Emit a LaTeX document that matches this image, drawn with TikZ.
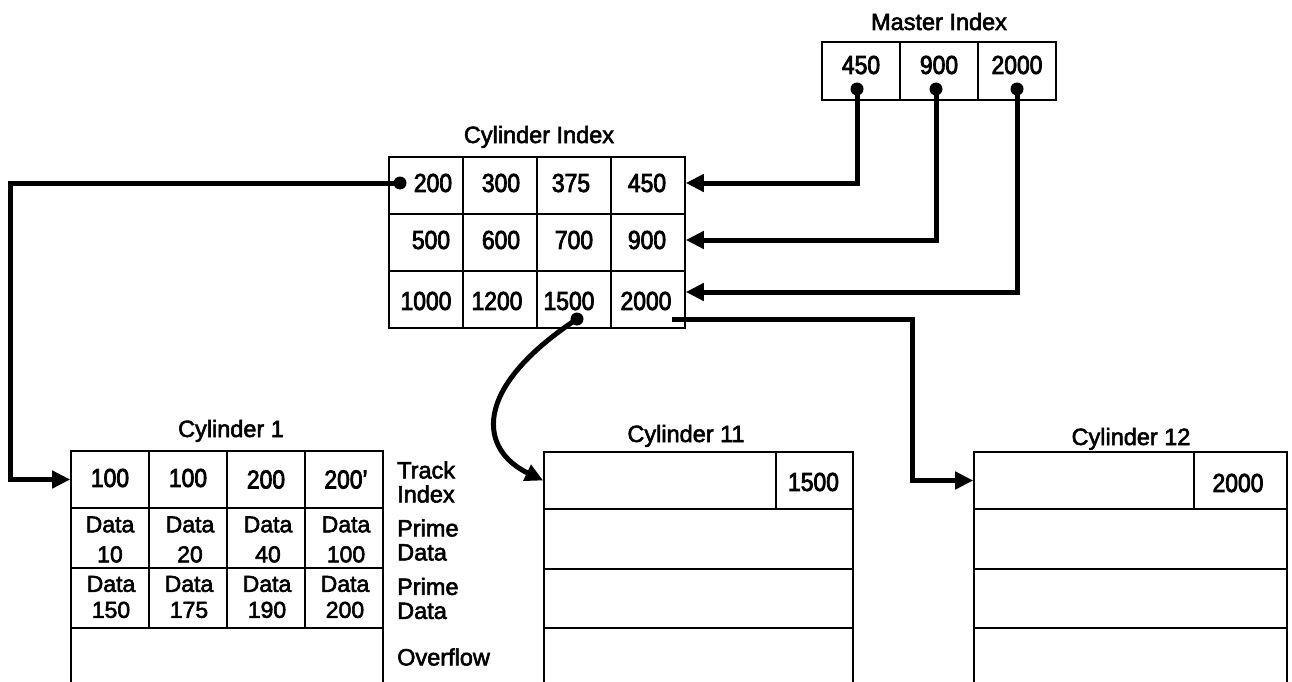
\documentclass[tikz,border=0pt]{standalone}
\usepackage{fontspec}
\setmainfont[FakeBold=2.4]{Liberation Sans}
\newfontfamily\numfont[FakeStretch=0.88,FakeBold=3]{Liberation Sans}
\usetikzlibrary{arrows.meta}
\begin{document}
\begin{tikzpicture}[x=1pt,y=-1pt,
  box/.style={draw, line width=1.6pt, inner sep=0pt},
  num/.style={font=\numfont\fontsize{26}{28}\selectfont, inner sep=0pt},
  lab/.style={font=\fontsize{23.5}{24}\selectfont, inner sep=0pt},
  dat/.style={font=\fontsize{23}{30}\selectfont, inner sep=0pt, align=center},
  side/.style={font=\fontsize{23.5}{24}\selectfont, inner sep=0pt, align=left, anchor=west},
  conn/.style={line width=5pt, -{Triangle[length=18pt,width=17pt]}},
  dotf/.style={fill=black}]
\fill[white] (0,0) rectangle (1292,682);
\clip (0,0) rectangle (1292,682);

% ---------------- Master Index
\node[lab, anchor=base] (mtitle) at (939,30) {Master Index};
\node[box, minimum width=78pt, minimum height=58pt] (m1) at (861,71) {};
\node[box, minimum width=78pt, minimum height=58pt] (m2) at (939,71) {};
\node[box, minimum width=78pt, minimum height=58pt] (m3) at (1017,71) {};
\node[num] (m1t) at (861,65) {450};
\node[num] (m2t) at (939,65) {900};
\node[num] (m3t) at (1017,65) {2000};
\coordinate (dm1) at (857,89);
\coordinate (dm2) at (936,89);
\coordinate (dm3) at (1017,89);

% ---------------- Cylinder Index
\node[lab, anchor=base] (cititle) at (539,143) {Cylinder Index};
\foreach \r/\y in {1/185.5,2/242.5,3/299.5}
  \foreach \c/\x in {1/426,2/500,3/574,4/648}
    \node[box, minimum width=74pt, minimum height=57pt] (ci\r\c) at (\x,\y) {};
\node[num] (ci11t) at (433,183) {200};
\node[num] (ci12t) at (501,183) {300};
\node[num] (ci13t) at (571,183) {375};
\node[num] (ci14t) at (647,183) {450};
\node[num] (ci21t) at (431,240) {500};
\node[num] (ci22t) at (501,240) {600};
\node[num] (ci23t) at (574,240) {700};
\node[num] (ci24t) at (647,240) {900};
\node[num] (ci31t) at (426,301) {1000};
\node[num] (ci32t) at (497,301) {1200};
\node[num] (ci33t) at (569,301) {1500};
\node[num] (ci34t) at (646,301) {2000};
\coordinate (d200) at (400,183);
\coordinate (d1500) at (577,319);
\coordinate (s2000) at (672,319);

% ---------------- Cylinder 1
\node[lab, anchor=base] (c1title) at (231,437) {Cylinder 1};
\foreach \c/\x in {1/110,2/188,3/266,4/344}{
  \node[box, minimum width=78pt, minimum height=57pt] (c1a\c) at (\x,479.5) {};
  \node[box, minimum width=78pt, minimum height=60pt] (c1b\c) at (\x,538) {};
  \node[box, minimum width=78pt, minimum height=60pt] (c1c\c) at (\x,598) {};
}
\node[box, minimum width=312pt, minimum height=72pt] (c1d) at (227,664) {};
\node[num] (c1a1t) at (110,478) {100};
\node[num] (c1a2t) at (188,478) {100};
\node[num] (c1a3t) at (266,479.5) {200};
\node[num] (c1a4t) at (346,479.5) {200’};
\node[dat] (c1b1t) at (110,539.5) {Data\\10};
\node[dat] (c1b2t) at (190,539.5) {Data\\20};
\node[dat] (c1b3t) at (268,539.5) {Data\\40};
\node[dat] (c1b4t) at (346,539.5) {Data\\100};
\node[dat, font=\fontsize{23}{26}\selectfont] (c1c1t) at (111,597) {Data\\150};
\node[dat, font=\fontsize{23}{26}\selectfont] (c1c2t) at (189,597) {Data\\175};
\node[dat, font=\fontsize{23}{26}\selectfont] (c1c3t) at (267,597) {Data\\190};
\node[dat, font=\fontsize{23}{26}\selectfont] (c1c4t) at (345,597) {Data\\200};
\node[side] (lt1) at (397,482) {Track\\Index};
\node[side] (lt2) at (397,540) {Prime\\Data};
\node[side] (lt3) at (397,598.5) {Prime\\Data};
\node[side] (lt4) at (397,657) {Overflow};

% ---------------- Cylinder 11
\node[lab, anchor=base] (c11title) at (686,442) {Cylinder 11};
\node[box, minimum width=232pt, minimum height=57pt] (c11a) at (660,480.5) {};
\node[box, minimum width=77pt, minimum height=57pt] (c11k) at (814.5,480.5) {};
\node[num] (c11kt) at (813.5,482) {1500};
\node[box, minimum width=309pt, minimum height=60pt] (c11b) at (698.5,539) {};
\node[box, minimum width=309pt, minimum height=59pt] (c11c) at (698.5,598.5) {};
\node[box, minimum width=309pt, minimum height=72pt] (c11d) at (698.5,664) {};

% ---------------- Cylinder 12
\node[lab, anchor=base] (c12title) at (1131,445) {Cylinder 12};
\node[box, minimum width=220pt, minimum height=57pt] (c12a) at (1084,480.5) {};
\node[box, minimum width=93pt, minimum height=57pt] (c12k) at (1240.5,480.5) {};
\node[num] (c12kt) at (1238,483) {2000};
\node[box, minimum width=313pt, minimum height=60pt] (c12b) at (1130.5,539) {};
\node[box, minimum width=313pt, minimum height=59pt] (c12c) at (1130.5,598.5) {};
\node[box, minimum width=313pt, minimum height=72pt] (c12d) at (1130.5,664) {};

% ---------------- connectors
\draw[conn] (dm1) |- ([yshift=2.5pt]ci14.east);
\draw[conn] (dm2) |- ([yshift=2.5pt]ci24.east);
\draw[conn] (dm3) |- ([yshift=7.5pt]ci34.east);
\coordinate (kL) at (10,183);
\draw[conn] (d200) -- (kL) |- (c1a1.west);
\draw[conn] (d1500) .. controls (470,390) and (480,450) .. (c11a.west);
\coordinate (kR) at (912,319);
\draw[conn] (s2000) -- (kR) |- (c12a.west);

\foreach \d in {dm1,dm2,dm3,d200,d1500}
  \fill[dotf] (\d) circle (6.5pt);
\end{tikzpicture}
\end{document}
